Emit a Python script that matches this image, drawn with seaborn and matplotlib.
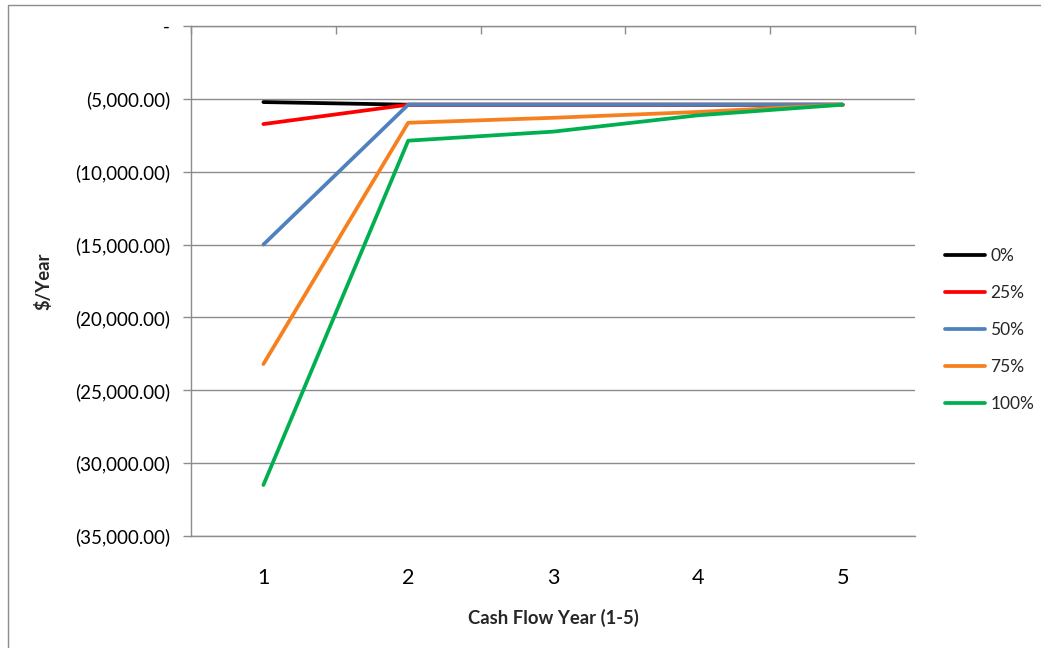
import pandas as pd
import numpy as np
import matplotlib
matplotlib.use("Agg")
import matplotlib.pyplot as plt
import seaborn as sns
from matplotlib.ticker import FuncFormatter, FixedLocator, MultipleLocator
from matplotlib.patches import Rectangle

# Data
years = [1, 2, 3, 4, 5]
scenarios = ["0%", "25%", "50%", "75%", "100%"]
cf_0 = [-5220, -5400, -5400, -5400, -5400]
cf_25 = [-6730, -5400, -5400, -5400, -5400]
cf_50 = [-15000, -5400, -5400, -5400, -5400]
cf_75 = [-23200, -6640, -6300, -5900, -5400]
cf_100 = [-31500, -7870, -7250, -6130, -5400]
colors = ["#000000", "#FF0000", "#4F81BD", "#F7801E", "#00B050"]

rows = []
for s, vals in zip(scenarios, [cf_0, cf_25, cf_50, cf_75, cf_100]):
    for y, v in zip(years, vals):
        rows.append({"Year": y, "Value": v, "Scenario": s})
df = pd.DataFrame(rows)

sns.set_style("white")
plt.rcParams['font.family'] = ['Lato', 'DejaVu Sans']

fig = plt.figure(figsize=(10.41, 6.48), dpi=100)
ax = fig.add_axes([191 / 1041, 1 - 536 / 648, (915 - 191) / 1041, (536 - 26) / 648])

sns.lineplot(data=df, x="Year", y="Value", hue="Scenario", hue_order=scenarios,
             palette=colors, linewidth=2.7, sort=False, ax=ax, legend=True)

ax.set_xlim(0.5, 5.5)
ax.set_ylim(-35000, 0)
ax.yaxis.set_major_locator(MultipleLocator(5000))

def fmt(v, pos):
    if abs(v) < 1e-6:
        return "-"
    if v < 0:
        return "({:,.2f})".format(-v)
    return "{:,.2f}".format(v)

ax.yaxis.set_major_formatter(FuncFormatter(fmt))
ax.grid(axis="y", color="#8c8c8c", linewidth=1.0)
ax.set_axisbelow(True)

for side in ["left", "top", "bottom"]:
    ax.spines[side].set_visible(True)
    ax.spines[side].set_color("#8c8c8c")
    ax.spines[side].set_linewidth(1.0)
ax.spines["right"].set_visible(False)

ax.set_xticks(years)
ax.xaxis.set_minor_locator(FixedLocator([0.5, 1.5, 2.5, 3.5, 4.5, 5.5]))
ax.tick_params(axis="x", which="major", length=0, pad=23, labelsize=15.5, labelcolor="#000000")
ax.tick_params(axis="x", which="minor", top=True, bottom=False, direction="in",
               length=6, color="#8c8c8c", width=1.0)
ax.tick_params(axis="y", which="major", left=True, direction="out", length=6,
               color="#8c8c8c", width=1.0, pad=9, labelsize=13.5, labelcolor="#000000")

ax.set_xlabel("Cash Flow Year (1-5)", fontsize=13.3, fontweight="bold", va="center")
ax.set_ylabel("$/Year", fontsize=13.3, fontweight="bold", va="center")
ax.xaxis.set_label_coords(0.5, (536 - 618) / 510)
ax.yaxis.set_label_coords((43 - 191) / 724, 0.5)

handles, labels = ax.get_legend_handles_labels()
leg = ax.legend(handles, labels, loc="center left", bbox_to_anchor=(945 / 1041, 1 - 330 / 648),
                bbox_transform=fig.transFigure, frameon=False, fontsize=12.5,
                handlelength=2.3, handletextpad=0.3, labelspacing=1.22, borderaxespad=0,
                borderpad=0)
for line in leg.get_lines():
    line.set_linewidth(2.7)

# chart area frame
fig.patches.append(Rectangle((8 / 1041, -0.05), 1.1, 1 - 5 / 648 + 0.05,
                             transform=fig.transFigure, fill=False,
                             edgecolor="#8c8c8c", linewidth=1.0))

fig.savefig("out.png", dpi=100)
